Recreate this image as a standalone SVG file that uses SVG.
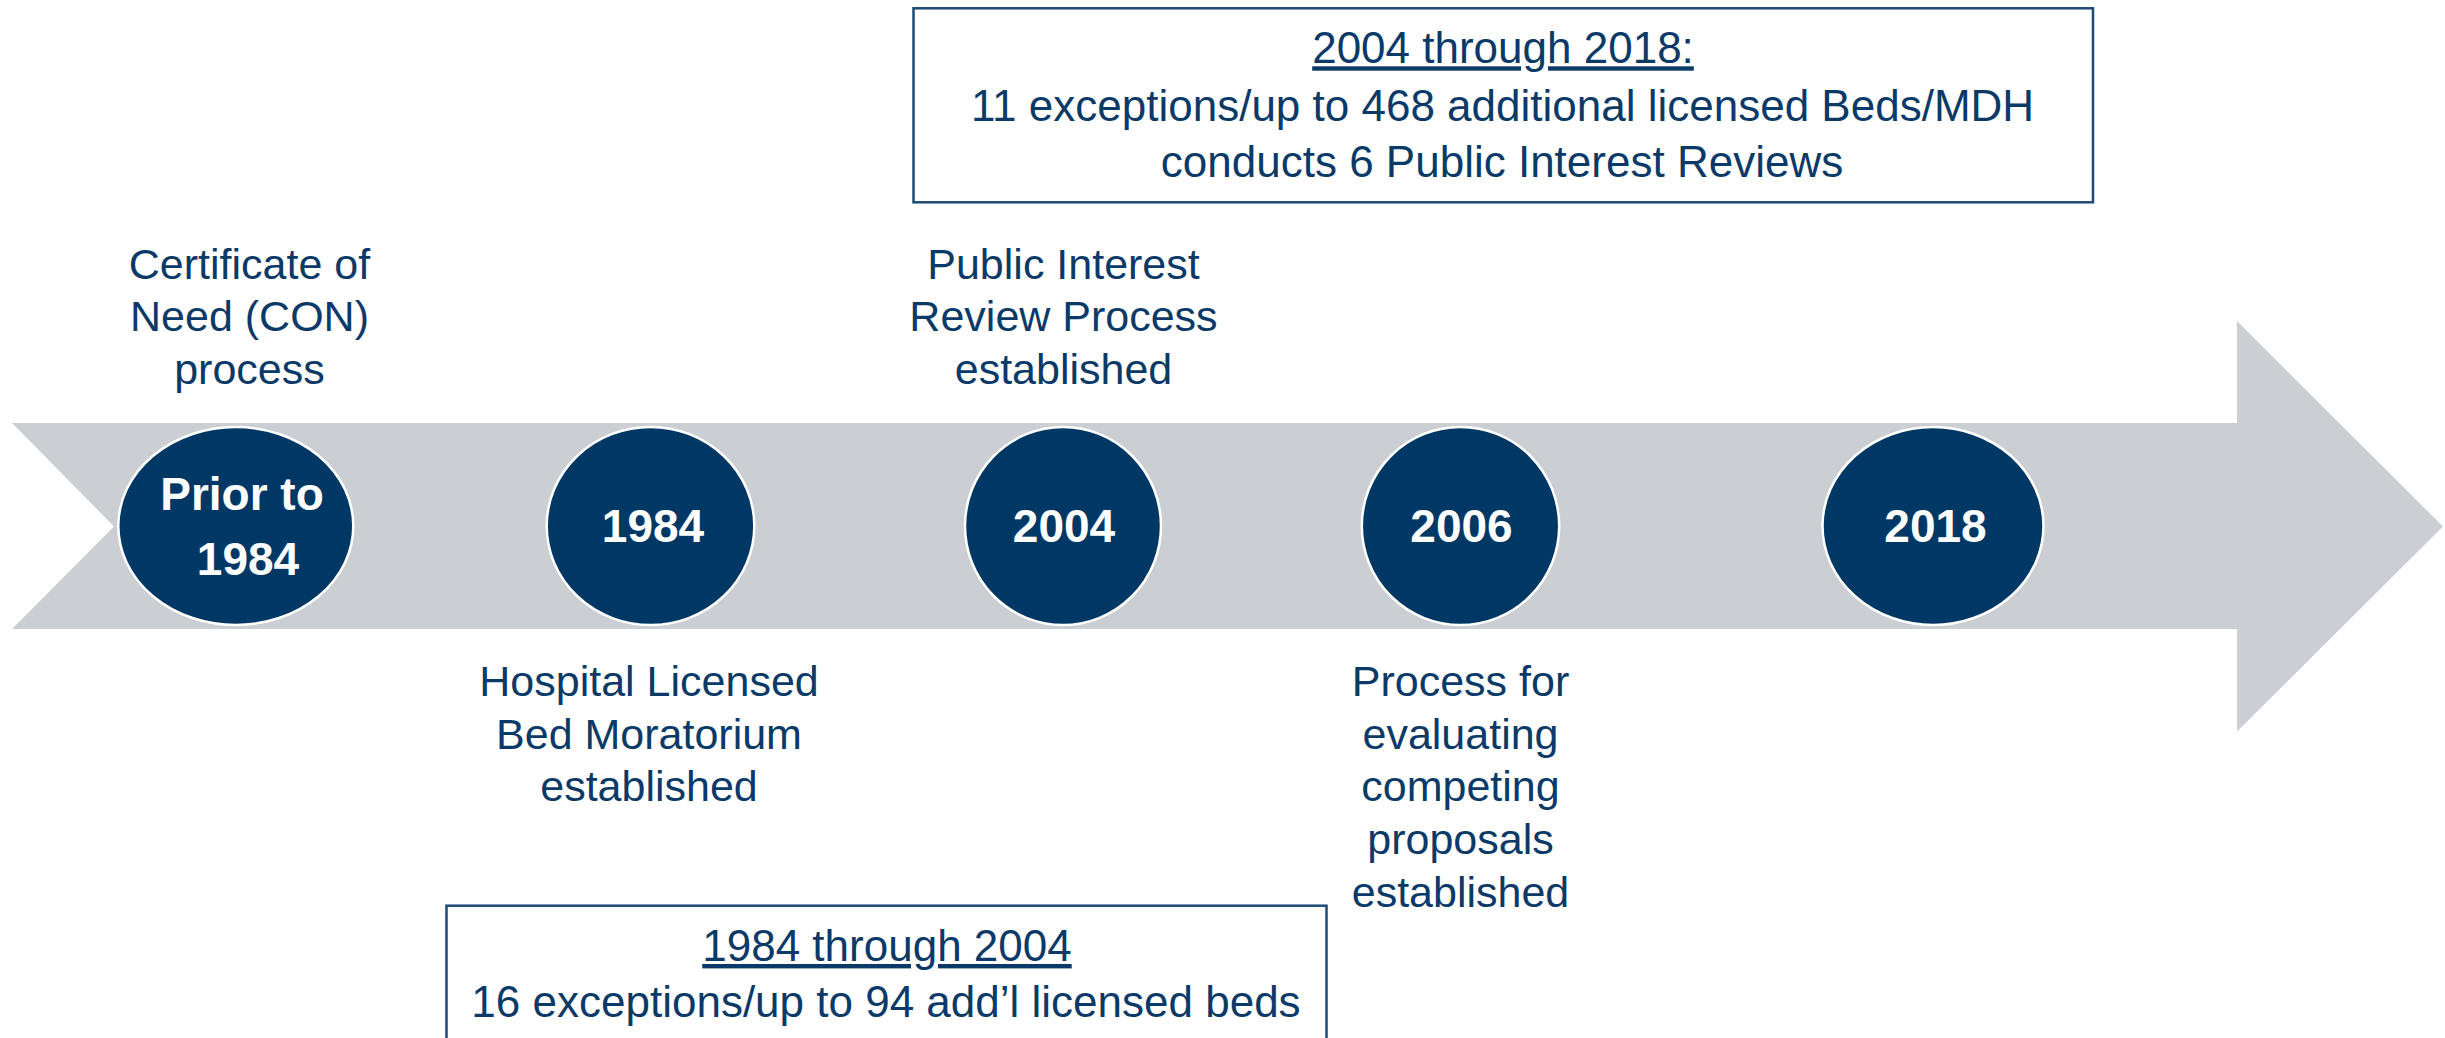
<svg xmlns="http://www.w3.org/2000/svg" width="2445" height="1038" viewBox="0 0 2445 1038">
  <style>
    .lbl { font-family: "Liberation Sans", Arial, sans-serif; font-size: 43px; fill: #0B3A68; text-anchor: middle; }
    .box { font-family: "Liberation Sans", Arial, sans-serif; font-size: 44px; fill: #0B3A68; text-anchor: middle; }
    .yr { font-family: "Liberation Sans", Arial, sans-serif; font-size: 46px; font-weight: bold; fill: #FFFFFF; text-anchor: middle; }
    .dot { fill: #003865; stroke: #FFFFFF; stroke-width: 2.5; }
    .frame { fill: #FFFFFF; stroke: #1F4A75; stroke-width: 2.5; }
  </style>
  <rect x="0" y="0" width="2445" height="1038" fill="#FFFFFF"/>

  <g id="timeline-arrow">
    <path d="M12,423 L2237,423 L2237,321 L2443,526.5 L2237,731.5 L2237,629 L12,629 L114,526.5 Z" fill="#CBCED3"/>
  </g>

  <g id="connectors"></g>

  <g id="node-prior-1984">
    <ellipse class="dot" cx="235.8" cy="526" rx="117.5" ry="99"/>
    <text class="yr" x="242" y="510">Prior to</text>
    <text class="yr" x="248" y="575">1984</text>
  </g>
  <g id="node-1984">
    <ellipse class="dot" cx="650.5" cy="526" rx="103.8" ry="99"/>
    <text class="yr" x="653" y="542">1984</text>
  </g>
  <g id="node-2004">
    <ellipse class="dot" cx="1063" cy="526" rx="98" ry="99"/>
    <text class="yr" x="1064" y="542">2004</text>
  </g>
  <g id="node-2006">
    <ellipse class="dot" cx="1460.5" cy="526" rx="98.7" ry="99"/>
    <text class="yr" x="1461.5" y="542">2006</text>
  </g>
  <g id="node-2018">
    <ellipse class="dot" cx="1933" cy="526" rx="110.5" ry="99"/>
    <text class="yr" x="1935.5" y="542">2018</text>
  </g>

  <g id="label-con">
    <text class="lbl" x="249.5" y="279">Certificate of</text>
    <text class="lbl" x="249.5" y="331">Need (CON)</text>
    <text class="lbl" x="249.5" y="383.5">process</text>
  </g>
  <g id="label-public-interest">
    <text class="lbl" x="1063.5" y="279">Public Interest</text>
    <text class="lbl" x="1063.5" y="331">Review Process</text>
    <text class="lbl" x="1063.5" y="383.5">established</text>
  </g>
  <g id="label-moratorium">
    <text class="lbl" x="649" y="696">Hospital Licensed</text>
    <text class="lbl" x="649" y="748.7">Bed Moratorium</text>
    <text class="lbl" x="649" y="801.4">established</text>
  </g>
  <g id="label-competing">
    <text class="lbl" x="1460.5" y="696">Process for</text>
    <text class="lbl" x="1460.5" y="748.7">evaluating</text>
    <text class="lbl" x="1460.5" y="801.4">competing</text>
    <text class="lbl" x="1460.5" y="854.1">proposals</text>
    <text class="lbl" x="1460.5" y="906.8">established</text>
  </g>

  <g id="box-2004-2018">
    <rect class="frame" x="913.5" y="8.3" width="1179.5" height="194"/>
    <text class="box" x="1503" y="63.3" text-decoration="underline">2004 through 2018:</text>
    <text class="box" x="1502.5" y="120.7">11 exceptions/up to 468 additional licensed Beds/MDH</text>
    <text class="box" x="1502" y="176.7">conducts 6 Public Interest Reviews</text>
  </g>

  <g id="box-1984-2004">
    <rect class="frame" x="446.5" y="905.7" width="880" height="160"/>
    <text class="box" x="887" y="961" text-decoration="underline">1984 through 2004</text>
    <text class="box" x="886" y="1016.7">16 exceptions/up to 94 add’l licensed beds</text>
  </g>
</svg>
